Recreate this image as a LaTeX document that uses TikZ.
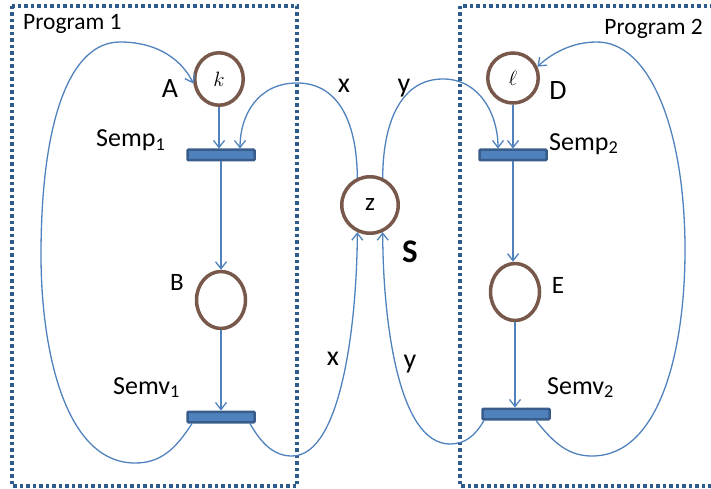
\documentclass[tikz,border=0pt]{standalone}
\usepackage{fontspec}
\setmainfont{Carlito}
\usetikzlibrary{arrows.meta,shapes.geometric}
\definecolor{arcblue}{HTML}{4F81BD}
\definecolor{bardark}{HTML}{385D8A}
\definecolor{frameblue}{HTML}{2F5A8C}
\definecolor{placebrown}{RGB}{120,88,74}
\tikzset{
  place/.style={ellipse, draw=placebrown, line width=3.5pt, fill=white, inner sep=0pt},
  bar/.style={rectangle, rounded corners=1pt, draw=bardark, fill=arcblue, line width=2.5pt, minimum width=67pt, minimum height=10.5pt, inner sep=0pt},
  arc/.style={draw=arcblue, line width=1.3pt, -{Straight Barb[length=7pt,width=11pt]}},
  frame/.style={draw=frameblue, line width=3.5pt, dash pattern=on 3.5pt off 3pt},
  lbl/.style={inner sep=0pt, font=\fontsize{26}{30}\selectfont},
  big/.style={inner sep=0pt, font=\fontsize{28}{32}\selectfont},
}
\begin{document}
\begin{tikzpicture}[x=1pt,y=-1pt]
\useasboundingbox (0,0) rectangle (711,489);
% frames
\draw[frame] (12,6) rectangle (297,486);
\draw[frame] (720,6) -- (460,6) -- (460,486) -- (720,486);
\node[lbl, anchor=base west, font=\fontsize{23.5}{27}\selectfont] (p1) at (23,30) {Program 1};
\node[lbl, anchor=base east, font=\fontsize{23.5}{27}\selectfont] (p2) at (703,35) {Program 2};
% places
\node[place, minimum width=48.5pt, minimum height=52.5pt] (A) at (219,79) {\fontsize{20}{20}\selectfont$k$};
\node[place, minimum width=49pt, minimum height=57pt] (B) at (221,300) {};
\node[place, minimum width=56.5pt, minimum height=56.5pt] (z) at (370,205) {\fontsize{25}{25}\selectfont z};
\node[place, minimum width=50.5pt, minimum height=50pt] (D) at (513,78) {\fontsize{20}{20}\selectfont$\ell$};
\node[place, minimum width=49pt, minimum height=57pt] (E) at (515,292) {};
% transitions
\node[bar] (Sp1) at (221,155) {};
\node[bar] (Sv1) at (221,417) {};
\node[bar] (Sp2) at (513,155) {};
\node[bar] (Sv2) at (516,414) {};
% labels
\node[big, anchor=base] (lA) at (170,98) {A};
\node[big, anchor=base] (lD) at (558,100) {D};
\node[lbl, anchor=base, font=\fontsize{25}{28}\selectfont] (lB) at (177,290) {B};
\node[lbl, anchor=base, font=\fontsize{25}{28}\selectfont] (lE) at (558,293) {E};
\node[lbl, anchor=base west] (lSp1) at (96,147) {Semp\textsubscript{1}};
\node[lbl, anchor=base west] (lSv1) at (113,394) {Semv\textsubscript{1}};
\node[lbl, anchor=base west] (lSp2) at (549,150) {Semp\textsubscript{2}};
\node[lbl, anchor=base west] (lSv2) at (547,394) {Semv\textsubscript{2}};
\node[big, anchor=base] (x1) at (344,93) {x};
\node[big, anchor=base] (y1) at (404,93) {y};
\node[big, anchor=base] (x2) at (333,365) {x};
\node[big, anchor=base] (y2) at (410,368) {y};
\node[inner sep=0pt, anchor=base, font=\fontsize{33}{36}\selectfont\bfseries] (S) at (410,262) {S};
% straight arcs
\draw[arc] (A.south) -- (A.south |- Sp1.north);
\draw[arc] (Sp1.south) -- (Sp1.south |- B.north);
\draw[arc] (B.south) -- (B.south |- Sv1.north);
\draw[arc] (D.south) -- (D.south |- Sp2.north);
\draw[arc] (Sp2.south) -- (Sp2.south |- E.north);
\draw[arc] (E.south) -- (E.south |- Sv2.north);
% Semv1 -> A
\draw[arc] ([xshift=-29pt]Sv1.south) .. controls (175,450) and (160,463) .. (135,463)
  .. controls (65,463) and (41,350) .. (41,255)
  .. controls (41,120) and (70,42) .. (120,42)
  .. controls (160,42) and (183,62) .. (A.190);
% z -> Semp1 (x)
\draw[arc] (z.115) .. controls (357,125) and (340,83) .. (297,83)
  .. controls (258,83) and (240,115) .. ([xshift=19pt]Sp1.north);
% z -> Semp2 (y)
\draw[arc] (z.65) .. controls (383,120) and (402,79) .. (443,79)
  .. controls (480,79) and (498,115) .. ([xshift=-15pt]Sp2.north);
% Semv1 -> z (x)
\draw[arc] ([xshift=29pt]Sv1.south) .. controls (262,445) and (275,456) .. (292,456)
  .. controls (342,456) and (357,320) .. (z.245);
% Semv2 -> z (y)
\draw[arc] ([xshift=-32pt]Sv2.south) .. controls (475,436) and (465,444) .. (450,444)
  .. controls (398,444) and (383,320) .. (z.295);
% Semv2 -> D
\draw[arc] ([xshift=20pt]Sv2.south) .. controls (555,445) and (570,456) .. (592,456)
  .. controls (660,456) and (685,350) .. (685,250)
  .. controls (685,130) and (650,42) .. (597,42)
  .. controls (570,42) and (550,55) .. (D.25);
\end{tikzpicture}
\end{document}
